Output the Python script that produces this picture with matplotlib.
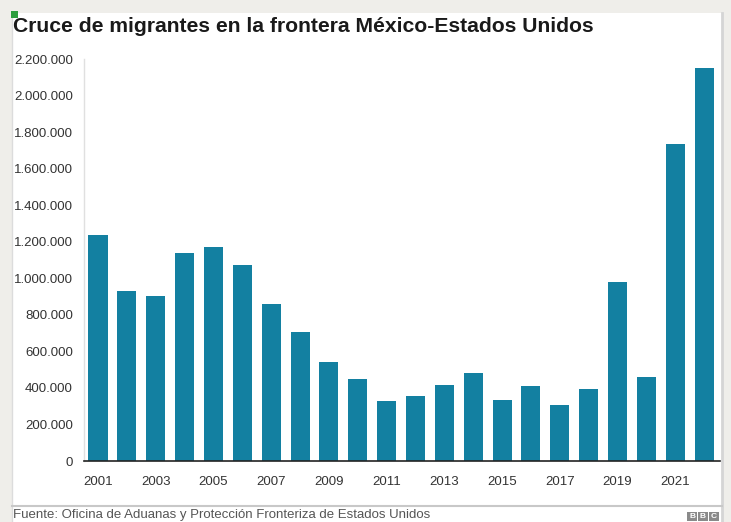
import numpy as np
import matplotlib.pyplot as plt
from matplotlib.patches import Rectangle
from matplotlib.ticker import FuncFormatter

# data
YEARS = list(range(2001, 2023))
CROSSINGS = [1235718, 929809, 905065, 1139282, 1171396, 1071972, 858638,
             705005, 540865, 447731, 327577, 356873, 414397, 479371,
             331333, 408870, 303916, 396579, 977509, 458088, 1734686,
             2150000]
XTICKS = list(range(2001, 2022, 2))
YTICKS = list(range(0, 2200001, 200000))

TITLE = "Cruce de migrantes en la frontera México-Estados Unidos"
SOURCE = "Fuente: Oficina de Aduanas y Protección Fronteriza de Estados Unidos"

BAR_COLOR = "#1380A1"
W, H = 731, 522

plt.rcParams['font.family'] = ['Liberation Sans', 'DejaVu Sans']

fig = plt.figure(figsize=(W / 100, H / 100), dpi=100)
fig.patch.set_facecolor("#efeeea")


def px(x0, y0, x1, y1):
    # pixel box (top-left origin) -> figure fraction rect
    return [x0 / W, 1 - y1 / H, (x1 - x0) / W, (y1 - y0) / H]


# white panel + borders
panel = px(12, 13, 722, 522)
fig.patches.append(Rectangle((panel[0], panel[1]), panel[2], panel[3],
                             transform=fig.transFigure, facecolor="white",
                             edgecolor="none", zorder=-5))
fig.add_artist(plt.Line2D([722 / W, 722 / W], [0, 1 - 13 / H],
                          transform=fig.transFigure, color="#d5d5d5", lw=2))
fig.add_artist(plt.Line2D([12 / W, 12 / W], [0, 1 - 13 / H],
                          transform=fig.transFigure, color="#dcdcdc", lw=1))
fig.add_artist(plt.Line2D([12 / W, 722 / W], [1 - 506 / H, 1 - 506 / H],
                          transform=fig.transFigure, color="#c8c8c8", lw=1.5))
gs = px(11, 11, 18, 18)
fig.patches.append(Rectangle((gs[0], gs[1]), gs[2], gs[3],
                             transform=fig.transFigure, facecolor="#2e9e3e",
                             edgecolor="none", zorder=3))

ax = fig.add_axes(px(84, 59, 720, 461))
ax.set_facecolor("none")
ax.bar(YEARS, CROSSINGS, width=0.66, color=BAR_COLOR, zorder=2)

ax.set_xlim(2000.515, 2022.55)
ax.set_ylim(0, 2200000)
ax.set_xticks(XTICKS)
ax.set_yticks(YTICKS)
ax.yaxis.set_major_formatter(FuncFormatter(lambda v, p: f"{int(v):,}".replace(",", ".")))
ax.tick_params(axis='both', length=0, labelsize=9.5)
ax.tick_params(axis='y', pad=8)
ax.tick_params(axis='x', pad=11)
for lab in ax.get_xticklabels() + ax.get_yticklabels():
    lab.set_color("#333333")

for s in ["top", "right"]:
    ax.spines[s].set_visible(False)
ax.spines["left"].set_color("#e0e0e0")
ax.spines["left"].set_linewidth(1)
ax.spines["bottom"].set_color("#222222")
ax.spines["bottom"].set_linewidth(1.2)

fig.text(13 / W, 1 - 26 / H, TITLE, fontsize=15.2, fontweight="bold",
         color="#1a1a1a", va="center", ha="left")
fig.text(13 / W, 1 - 515 / H, SOURCE, fontsize=9.5, color="#555555",
         va="center", ha="left")

# BBC blocks
for i, letter in enumerate("BBC"):
    bx = px(687 + i * 11, 512, 697 + i * 11, 521)
    fig.patches.append(Rectangle((bx[0], bx[1]), bx[2], bx[3],
                                 transform=fig.transFigure, facecolor="#8a8a8a",
                                 edgecolor="none", zorder=3))
    fig.text(bx[0] + bx[2] / 2, bx[1] + bx[3] / 2, letter, fontsize=6,
             fontweight="bold", color="white", ha="center", va="center", zorder=4)

fig.savefig("out.png", dpi=100)
